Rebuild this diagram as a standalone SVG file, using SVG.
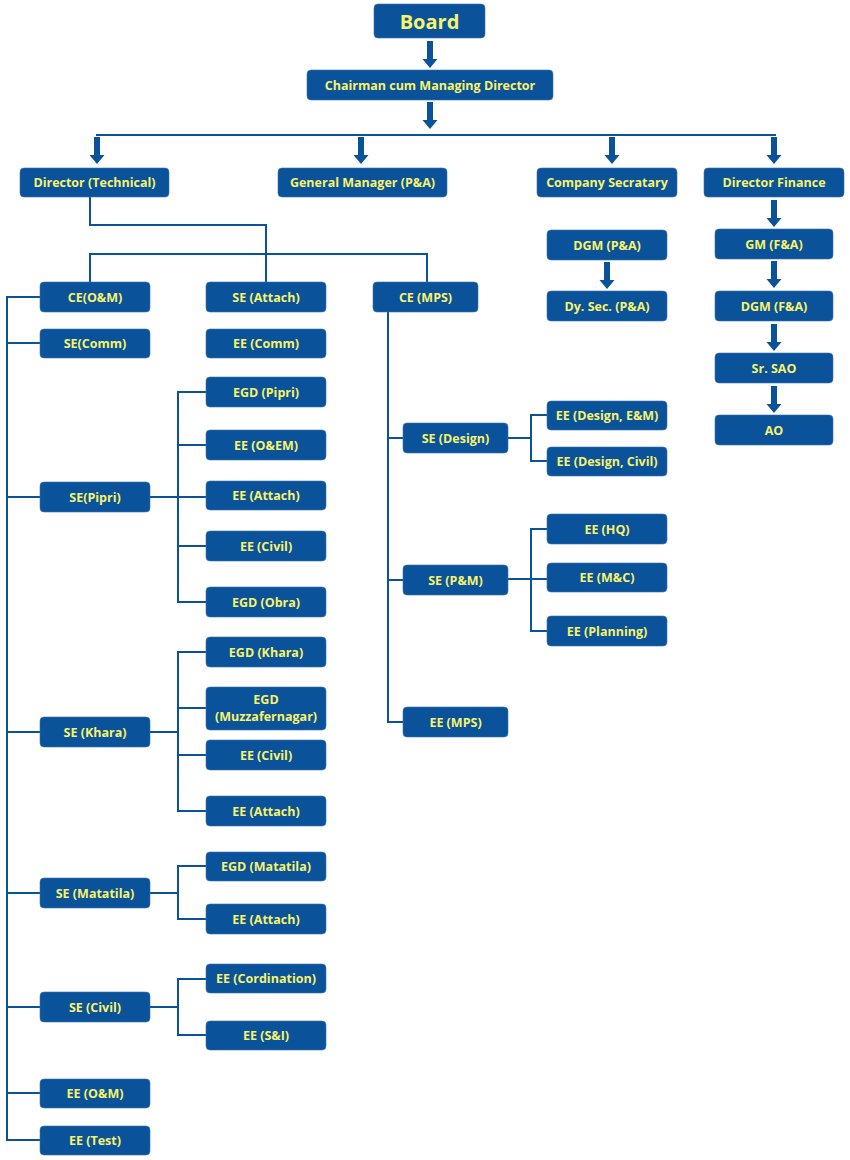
<svg xmlns="http://www.w3.org/2000/svg" xmlns:xlink="http://www.w3.org/1999/xlink" width="850" height="1160" viewBox="0 0 850 1160">
<style>
.b{fill:#0a5299;stroke:#3a74b4;stroke-width:0.6}
.t{fill:#f8f26c;font-family:"Open Sans","Liberation Sans",sans-serif;font-weight:700;font-size:12.5px;text-anchor:middle}
.big{font-size:20px}
.c{fill:none;stroke:#0a5299;stroke-width:2}
.a{fill:#0a5299}
</style>
<defs>
<path id="arr" d="M-3,-27 h6 v18 h4.5 l-7.5,9 l-7.5,-9 h4.5 z"/>
</defs>
<rect width="850" height="1160" fill="#ffffff"/>
<g id="connectors">
<path class="c" d="M96,135 H776"/>
<path class="c" d="M90,197 V225 H266 V282"/>
<path class="c" d="M90,282 V254 H427 V282"/>
<path class="c" d="M40,297 H7 V1140 H40 M7,343 H40 M7,497 H40 M7,732 H40 M7,893 H40 M7,1007 H40 M7,1093 H40"/>
<path class="c" d="M388,312 V722 H403 M388,438 H403 M388,580 H403"/>
<path class="c" d="M150,497 H206 M206,392 H178 V602 H206 M178,445 H206 M178,546 H206"/>
<path class="c" d="M150,732 H178 M206,652 H178 V811 H206 M178,708 H206 M178,755 H206"/>
<path class="c" d="M150,893 H178 M206,866 H178 V919 H206"/>
<path class="c" d="M150,1007 H178 M206,979 H178 V1035 H206"/>
<path class="c" d="M508,438 H531 M547,415 H531 V461 H547"/>
<path class="c" d="M508,579 H547 M547,529 H531 V631 H547"/>
<g class="a">
<use xlink:href="#arr" href="#arr" transform="translate(430,68)"/>
<use xlink:href="#arr" href="#arr" transform="translate(430,129)"/>
<use xlink:href="#arr" href="#arr" transform="translate(97,164)"/>
<use xlink:href="#arr" href="#arr" transform="translate(361,164)"/>
<use xlink:href="#arr" href="#arr" transform="translate(612,164)"/>
<use xlink:href="#arr" href="#arr" transform="translate(774,164)"/>
<use xlink:href="#arr" href="#arr" transform="translate(774,227)"/>
<use xlink:href="#arr" href="#arr" transform="translate(607,289)"/>
<use xlink:href="#arr" href="#arr" transform="translate(774,288)"/>
<use xlink:href="#arr" href="#arr" transform="translate(774,351)"/>
<use xlink:href="#arr" href="#arr" transform="translate(774,413)"/>
</g>
</g>
<g id="board"><rect class="b" x="374" y="4" width="111" height="34" rx="4"/><text class="t big" x="429.5" y="28.5">Board</text></g>
<g id="cmd"><rect class="b" x="307" y="70" width="246" height="30" rx="4"/><text class="t" x="430" y="89.5">Chairman cum Managing Director</text></g>
<g id="dir-tech"><rect class="b" x="20" y="168" width="149" height="29" rx="4"/><text class="t" x="94.5" y="187">Director (Technical)</text></g>
<g id="gm-pa"><rect class="b" x="278" y="168" width="169" height="29" rx="4"/><text class="t" x="362.5" y="187">General Manager (P&amp;A)</text></g>
<g id="comp-sec"><rect class="b" x="537" y="168" width="140" height="29" rx="4"/><text class="t" x="607" y="187">Company Secratary</text></g>
<g id="dir-fin"><rect class="b" x="704" y="168" width="140" height="29" rx="4"/><text class="t" x="774" y="187">Director Finance</text></g>
<g id="dgm-pa"><rect class="b" x="547" y="230" width="120" height="30" rx="4"/><text class="t" x="607" y="249.5">DGM (P&amp;A)</text></g>
<g id="dysec"><rect class="b" x="547" y="291" width="120" height="30" rx="4"/><text class="t" x="607" y="310.5">Dy. Sec. (P&amp;A)</text></g>
<g id="gm-fa"><rect class="b" x="715" y="229" width="118" height="30" rx="4"/><text class="t" x="774" y="248.5">GM (F&amp;A)</text></g>
<g id="dgm-fa"><rect class="b" x="715" y="291" width="118" height="30" rx="4"/><text class="t" x="774" y="310.5">DGM (F&amp;A)</text></g>
<g id="srsao"><rect class="b" x="715" y="353" width="118" height="30" rx="4"/><text class="t" x="774" y="372.5">Sr. SAO</text></g>
<g id="ao"><rect class="b" x="715" y="415" width="118" height="30" rx="4"/><text class="t" x="774" y="434.5">AO</text></g>
<g id="ce-om"><rect class="b" x="40" y="282" width="110" height="30" rx="4"/><text class="t" x="95" y="301.5">CE(O&amp;M)</text></g>
<g id="se-attach"><rect class="b" x="206" y="282" width="120" height="30" rx="4"/><text class="t" x="266" y="301.5">SE (Attach)</text></g>
<g id="ce-mps"><rect class="b" x="373" y="282" width="105" height="30" rx="4"/><text class="t" x="425.5" y="301.5">CE (MPS)</text></g>
<g id="se-comm"><rect class="b" x="40" y="329" width="110" height="29" rx="4"/><text class="t" x="95" y="348">SE(Comm)</text></g>
<g id="ee-comm"><rect class="b" x="206" y="329" width="120" height="29" rx="4"/><text class="t" x="266" y="348">EE (Comm)</text></g>
<g id="egd-pipri"><rect class="b" x="206" y="377" width="120" height="30" rx="4"/><text class="t" x="266" y="396.5">EGD (Pipri)</text></g>
<g id="ee-oem"><rect class="b" x="206" y="430" width="120" height="30" rx="4"/><text class="t" x="266" y="449.5">EE (O&amp;EM)</text></g>
<g id="ee-attach-p"><rect class="b" x="206" y="481" width="120" height="29" rx="4"/><text class="t" x="266" y="500">EE (Attach)</text></g>
<g id="ee-civil-p"><rect class="b" x="206" y="531" width="120" height="30" rx="4"/><text class="t" x="266" y="550.5">EE (Civil)</text></g>
<g id="egd-obra"><rect class="b" x="206" y="587" width="120" height="30" rx="4"/><text class="t" x="266" y="606.5">EGD (Obra)</text></g>
<g id="se-pipri"><rect class="b" x="40" y="482" width="110" height="30" rx="4"/><text class="t" x="95" y="501.5">SE(Pipri)</text></g>
<g id="se-design"><rect class="b" x="403" y="423" width="105" height="30" rx="4"/><text class="t" x="455.5" y="442.5">SE (Design)</text></g>
<g id="ee-design-em"><rect class="b" x="547" y="401" width="120" height="29" rx="4"/><text class="t" x="607" y="420">EE (Design, E&amp;M)</text></g>
<g id="ee-design-civil"><rect class="b" x="547" y="447" width="120" height="29" rx="4"/><text class="t" x="607" y="466">EE (Design, Civil)</text></g>
<g id="se-pm"><rect class="b" x="403" y="565" width="105" height="30" rx="4"/><text class="t" x="455.5" y="584.5">SE (P&amp;M)</text></g>
<g id="ee-hq"><rect class="b" x="547" y="514" width="120" height="30" rx="4"/><text class="t" x="607" y="533.5">EE (HQ)</text></g>
<g id="ee-mc"><rect class="b" x="547" y="563" width="120" height="29" rx="4"/><text class="t" x="607" y="582">EE (M&amp;C)</text></g>
<g id="ee-planning"><rect class="b" x="547" y="616" width="120" height="30" rx="4"/><text class="t" x="607" y="635.5">EE (Planning)</text></g>
<g id="ee-mps"><rect class="b" x="403" y="707" width="105" height="30" rx="4"/><text class="t" x="455.5" y="726.5">EE (MPS)</text></g>
<g id="egd-khara"><rect class="b" x="206" y="637" width="120" height="30" rx="4"/><text class="t" x="266" y="656.5">EGD (Khara)</text></g>
<g id="egd-muzz"><rect class="b" x="206" y="687" width="120" height="43" rx="4"/><text class="t" x="266" y="704">EGD</text><text class="t" x="266" y="721">(Muzzafernagar)</text></g>
<g id="ee-civil-k"><rect class="b" x="206" y="740" width="120" height="30" rx="4"/><text class="t" x="266" y="759.5">EE (Civil)</text></g>
<g id="ee-attach-k"><rect class="b" x="206" y="796" width="120" height="30" rx="4"/><text class="t" x="266" y="815.5">EE (Attach)</text></g>
<g id="se-khara"><rect class="b" x="40" y="717" width="110" height="30" rx="4"/><text class="t" x="95" y="736.5">SE (Khara)</text></g>
<g id="egd-matatila"><rect class="b" x="206" y="852" width="120" height="29" rx="4"/><text class="t" x="266" y="871">EGD (Matatila)</text></g>
<g id="ee-attach-m"><rect class="b" x="206" y="904" width="120" height="30" rx="4"/><text class="t" x="266" y="923.5">EE (Attach)</text></g>
<g id="se-matatila"><rect class="b" x="40" y="878" width="110" height="30" rx="4"/><text class="t" x="95" y="897.5">SE (Matatila)</text></g>
<g id="ee-cord"><rect class="b" x="206" y="964" width="120" height="29" rx="4"/><text class="t" x="266" y="983">EE (Cordination)</text></g>
<g id="ee-si"><rect class="b" x="206" y="1021" width="120" height="29" rx="4"/><text class="t" x="266" y="1040">EE (S&amp;I)</text></g>
<g id="se-civil"><rect class="b" x="40" y="992" width="110" height="30" rx="4"/><text class="t" x="95" y="1011.5">SE (Civil)</text></g>
<g id="ee-om"><rect class="b" x="40" y="1079" width="110" height="29" rx="4"/><text class="t" x="95" y="1098">EE (O&amp;M)</text></g>
<g id="ee-test"><rect class="b" x="40" y="1126" width="110" height="29" rx="4"/><text class="t" x="95" y="1145">EE (Test)</text></g>
</svg>
